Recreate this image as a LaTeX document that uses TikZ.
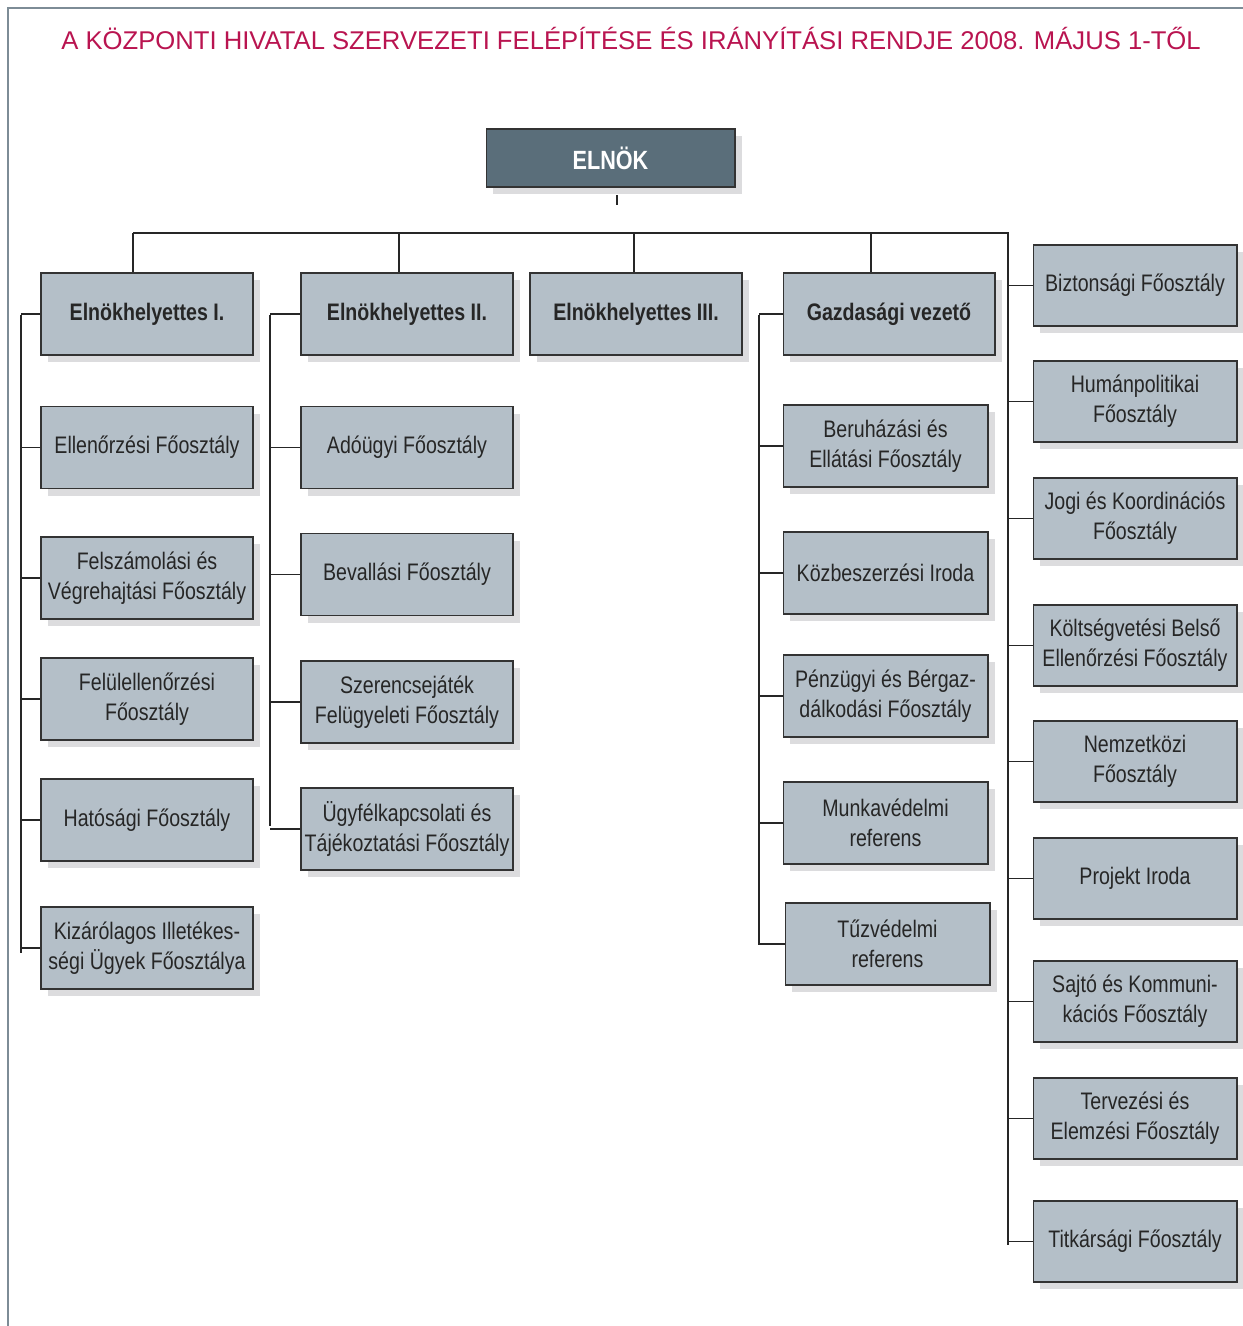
\documentclass[tikz,border=0pt]{standalone}
\usepackage{fontspec}
\setmainfont{Liberation Sans}[FakeStretch=0.82]
\newfontfamily\titlefont{Liberation Sans}
\usetikzlibrary{shadows}
\definecolor{boxfill}{RGB}{180,191,200}
\definecolor{headfill}{RGB}{90,110,122}
\definecolor{shadowgray}{RGB}{220,220,222}
\definecolor{framegray}{RGB}{125,140,150}
\definecolor{titlered}{RGB}{185,20,80}
\tikzset{
	unit/.style={draw=black!80, fill=boxfill, line width=0.6pt, inner sep=2pt, align=center,
		minimum width=4.24cm, minimum height=1.64cm, text=black!85,
		font=\fontsize{13.6}{17}\selectfont,
		drop shadow={shadow xshift=0.14cm, shadow yshift=-0.14cm, fill=shadowgray, opacity=1}},
	lead/.style={unit, font=\bfseries\fontsize{13.6}{17}\selectfont},
	side/.style={unit, minimum width=4.08cm, minimum height=1.62cm},
	chief/.style={unit, fill=headfill, text=white, minimum width=4.98cm, minimum height=1.16cm,
		font=\bfseries\fontsize{15}{18}\selectfont},
	% connectors
	link/.style={draw=black!85, line width=0.6pt},
}
\begin{document}
\begin{tikzpicture}[x=0.02cm, y=-0.02cm]
	\useasboundingbox (0,0) rectangle (1243,1326);
	\draw [framegray, line width=1.1pt] (8,1326) -- (8,8) -- (1243,8);
	
	\node (title) [text=titlered, font=\titlefont\fontsize{14.6}{18}\selectfont] at (631,38)
		{A KÖZPONTI HIVATAL SZERVEZETI FELÉPÍTÉSE ÉS IRÁNYÍTÁSI RENDJE 2008. MÁJUS 1-TŐL};
	
	\node (elnok) [chief] at (610.5,158) {ELNÖK};
	
	% leaders
	\node (eh1) [lead] at (147,314) {Elnökhelyettes I.};
	\node (eh2) [lead] at (407,314) {Elnökhelyettes II.};
	\node (eh3) [lead] at (636,314) {Elnökhelyettes III.};
	\node (gazd) [lead] at (889,314) {Gazdasági vezető};
	
	% column of Elnökhelyettes I.
	\node (ellen) [unit] at (147,447.5) {Ellenőrzési Főosztály};
	\node (felsz) [unit] at (147,578) {Felszámolási és\\Végrehajtási Főosztály};
	\node (felul) [unit] at (147,699) {Felülellenőrzési\\Főosztály};
	\node (hat) [unit] at (147,820) {Hatósági Főosztály};
	\node (kiz) [unit] at (147,948) {Kizárólagos Illetékes-\\ségi Ügyek Főosztálya};
	
	% column of Elnökhelyettes II.
	\node (ado) [unit] at (407,447.5) {Adóügyi Főosztály};
	\node (beval) [unit] at (407,574.5) {Bevallási Főosztály};
	\node (szer) [unit] at (407,702) {Szerencsejáték\\Felügyeleti Főosztály};
	\node (ugyf) [unit] at (407,829) {Ügyfélkapcsolati és\\Tájékoztatási Főosztály};
	
	% column of Gazdasági vezető
	\node (beruh) [unit, minimum width=4.1cm] at (885.5,446) {Beruházási és\\Ellátási Főosztály};
	\node (kozb) [unit, minimum width=4.1cm] at (885.5,573) {Közbeszerzési Iroda};
	\node (penz) [unit, minimum width=4.1cm] at (885.5,696) {Pénzügyi és Bérgaz-\\dálkodási Főosztály};
	\node (munka) [unit, minimum width=4.1cm] at (885.5,823) {Munkavédelmi\\referens};
	\node (tuz) [unit, minimum width=4.1cm] at (887.5,944) {Tűzvédelmi\\referens};
	
	% right column under Elnök
	\node (bizt) [side] at (1135,285.5) {Biztonsági Főosztály};
	\node (human) [side] at (1135,401.5) {Humánpolitikai\\Főosztály};
	\node (jogi) [side] at (1135,518.5) {Jogi és Koordinációs\\Főosztály};
	\node (kolts) [side] at (1135,645.5) {Költségvetési Belső\\Ellenőrzési Főosztály};
	\node (nemz) [side] at (1135,761.5) {Nemzetközi\\Főosztály};
	\node (proj) [side] at (1135,878.5) {Projekt Iroda};
	\node (sajto) [side] at (1135,1001.5) {Sajtó és Kommuni-\\kációs Főosztály};
	\node (terv) [side] at (1135,1118.5) {Tervezési és\\Elemzési Főosztály};
	\node (titk) [side] at (1135,1241.5) {Titkársági Főosztály};
	
	\coordinate (stubA) at (617,195);
	\coordinate (stubB) at (617,205);
	\coordinate (bus1) at (133,233);
	\coordinate (bus2) at (399,233);
	\coordinate (bus3) at (634,233);
	\coordinate (bus4) at (871,233);
	\coordinate (bus5) at (1008,233);
	\coordinate (spine5) at (1008,1245);
	\coordinate (spine1a) at (21,315);
	\coordinate (spine1b) at (21,953);
	\coordinate (spine2a) at (270,315);
	\coordinate (spine2b) at (270,826);
	\coordinate (spine4a) at (759,315);
	\coordinate (spine4b) at (759,945);
	
	\begin{scope}[link]
		\draw (stubA) -- (stubB);
		\draw (bus1) -- (bus5) -- (spine5);
		\draw (bus1) -- (bus1 |- eh1.north);
		\draw (bus2) -- (bus2 |- eh2.north);
		\draw (bus3) -- (bus3 |- eh3.north);
		\draw (bus4) -- (bus4 |- gazd.north);
		
		\draw (spine1a) -- (spine1b);
		\foreach \n in {eh1, ellen, felsz, felul, hat, kiz}
			\draw (\n.west) -- (\n.west -| spine1a);
		
		\draw (spine2a) -- (spine2b);
		\foreach \n in {eh2, ado, beval, szer, ugyf}
			\draw (\n.west) -- (\n.west -| spine2a);
		
		\draw (spine4a) -- (spine4b);
		\foreach \n in {gazd, beruh, kozb, penz, munka, tuz}
			\draw (\n.west) -- (\n.west -| spine4a);
		
		\foreach \n in {bizt, human, jogi, kolts, nemz, proj, sajto, terv, titk}
			\draw (\n.west) -- (\n.west -| bus5);
	\end{scope}
\end{tikzpicture}
\end{document}
